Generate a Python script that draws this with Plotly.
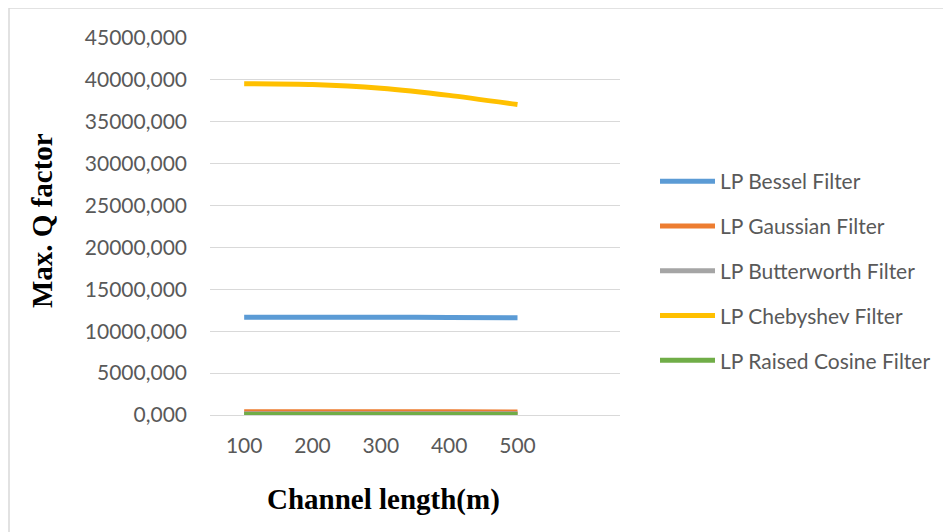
import plotly.graph_objects as go

channel_length = [100, 200, 300, 400, 500]
bessel = [11680, 11680, 11670, 11650, 11600]
gaussian = [380, 380, 380, 380, 370]
butterworth = [150, 150, 150, 150, 150]
chebyshev = [39550, 39450, 39000, 38150, 37050]
raised_cosine = [60, 60, 60, 60, 60]

series = [
    ("LP Bessel Filter", bessel, "#5B9BD5"),
    ("LP Gaussian Filter", gaussian, "#ED7D31"),
    ("LP Butterworth Filter", butterworth, "#A5A5A5"),
    ("LP Chebyshev Filter", chebyshev, "#FFC000"),
    ("LP Raised Cosine Filter", raised_cosine, "#70AD47"),
]

fig = go.Figure()
for name, vals, col in series:
    fig.add_trace(go.Scatter(
        x=channel_length, y=vals, name=name, mode="lines",
        line=dict(color=col, width=5, shape="spline", smoothing=0.6),
        legendgroup=name,
    ))

# page offset of the figure inside the browser window (body margin)
OX, OY = 8, 8
W, H = 951 - OX, 532 - OY
# plot area in window pixels
PL, PR, PT, PB = 210, 620, 38, 415
L, R, T, B = PL - OX, W - (PR - OX), PT - OY, H - (PB - OY)
pw, ph = PR - PL, PB - PT

def px(x):
    return (x - PL) / pw

def py(y):
    return (PB - y) / ph

fig.update_layout(
    width=W, height=H,
    margin=dict(l=L, r=R, t=T, b=B, pad=0),
    paper_bgcolor="white", plot_bgcolor="white",
    separators=",.",
    font=dict(family="Lato, Open Sans, sans-serif", color="#595959", size=21),
    showlegend=True,
    legend=dict(
        x=px(655), y=py(161), xanchor="left", yanchor="top",
        font=dict(size=21, color="#595959"),
        tracegroupgap=14.5, bgcolor="rgba(0,0,0,0)", itemwidth=55,
    ),
    xaxis=dict(
        range=[50, 650], tickvals=channel_length, ticktext=[str(v) for v in channel_length],
        showgrid=False, zeroline=False, showline=False, ticks="",
        ticklabelstandoff=16, tickfont=dict(size=21, color="#595959"),
    ),
    yaxis=dict(
        range=[0, 45000], dtick=5000, tickformat=".3f",
        showgrid=True, gridcolor="#D9D9D9", gridwidth=1,
        zeroline=True, zerolinecolor="#D9D9D9", zerolinewidth=1,
        showline=False, ticks="",
        ticklabelstandoff=22, tickfont=dict(size=21, color="#595959"),
    ),
    shapes=[dict(
        type="rect", xref="paper", yref="paper",
        x0=px(9), x1=px(950), y0=py(545), y1=py(8),
        line=dict(color="#D9D9D9", width=1.5), fillcolor="rgba(0,0,0,0)", layer="below",
    )],
    annotations=[
        dict(text="<b>Channel length(m)</b>", xref="paper", yref="paper",
             x=px(383), y=py(499), showarrow=False, xanchor="center", yanchor="middle",
             font=dict(family="Liberation Serif, Times New Roman, serif", size=29, color="black")),
        dict(text="<b>Max. Q factor</b>", xref="paper", yref="paper",
             x=px(42), y=py(221), showarrow=False, textangle=-90,
             xanchor="center", yanchor="middle",
             font=dict(family="Liberation Serif, Times New Roman, serif", size=29, color="black")),
    ],
)

fig.write_html("out.html")
